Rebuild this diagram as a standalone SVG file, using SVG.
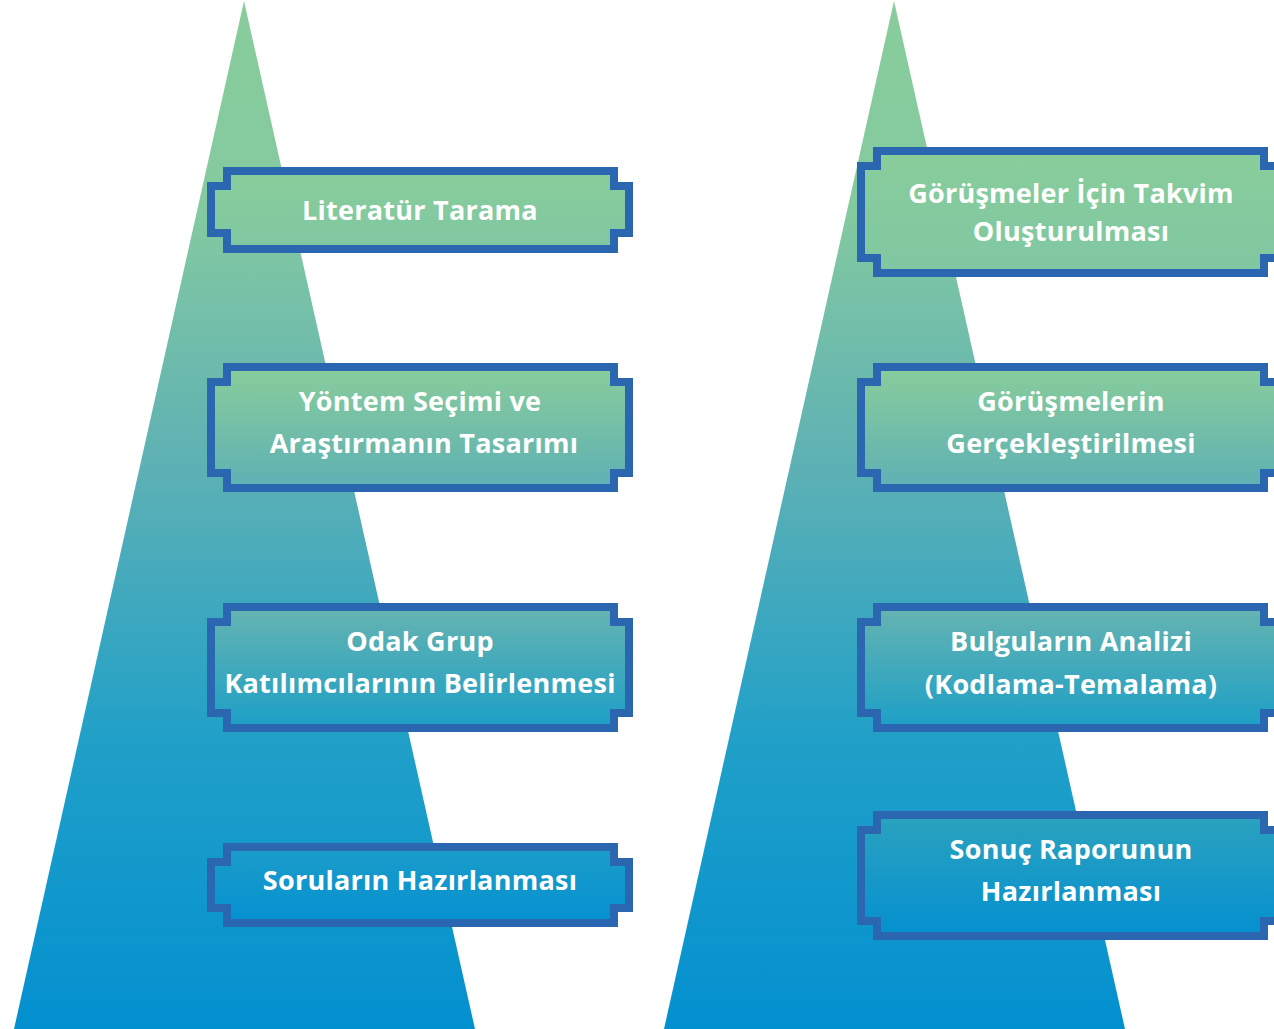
<svg xmlns="http://www.w3.org/2000/svg" width="1274" height="1029" viewBox="0 0 1274 1029">
<style>
.box{stroke:#2b66b0;stroke-width:8;stroke-linejoin:miter}
.t{font-family:"Open Sans","Liberation Sans",sans-serif;font-weight:700;font-size:27px;letter-spacing:0.25px;fill:#ffffff;text-anchor:middle}
</style>
<defs>
<linearGradient id="tri" x1="0" y1="0" x2="0" y2="1">
<stop offset="0" stop-color="#88cc9a"/>
<stop offset="0.2" stop-color="#84caa0"/>
<stop offset="0.45" stop-color="#5eb1b4"/>
<stop offset="0.72" stop-color="#20a0c8"/>
<stop offset="1" stop-color="#0390d0"/>
</linearGradient>
<linearGradient id="g1" x1="0" y1="0" x2="0" y2="1">
<stop offset="0" stop-color="#89cd9b"/>
<stop offset="1" stop-color="#80c7a2"/>
</linearGradient>
<linearGradient id="g2" x1="0" y1="0" x2="0" y2="1">
<stop offset="0" stop-color="#89cd9b"/>
<stop offset="1" stop-color="#5eb0b4"/>
</linearGradient>
<linearGradient id="g3" x1="0" y1="0" x2="0" y2="1">
<stop offset="0" stop-color="#66b4b0"/>
<stop offset="1" stop-color="#1c9fc7"/>
</linearGradient>
<linearGradient id="g4" x1="0" y1="0" x2="0" y2="1">
<stop offset="0" stop-color="#1c9dca"/>
<stop offset="1" stop-color="#0490d0"/>
</linearGradient>
<linearGradient id="g5" x1="0" y1="0" x2="0" y2="1">
<stop offset="0" stop-color="#2ba2be"/>
<stop offset="1" stop-color="#0490d0"/>
</linearGradient>
</defs>
<g id="triangle-left"><polygon points="244,1 475,1029 14,1029" fill="url(#tri)"/></g>
<g id="triangle-right"><polygon points="894,1 1125,1029 664,1029" fill="url(#tri)"/></g>
<g id="connectors"></g>
<g id="n1">
<path class="box" fill="url(#g1)" d="M227,171 H614 V186 H629 V233 H614 V249 H227 V233 H211 V186 H227 Z"/>
<text class="t" x="420" y="220">Literatür Tarama</text>
</g>
<g id="n2">
<path class="box" fill="url(#g2)" d="M227,367 H614 V382 H629 V473 H614 V488 H227 V473 H211 V382 H227 Z"/>
<text class="t" x="420" y="411">Yöntem Seçimi ve</text>
<text class="t" x="424" y="453">Araştırmanın Tasarımı</text>
</g>
<g id="n3">
<path class="box" fill="url(#g3)" d="M227,607 H614 V622 H629 V713 H614 V728 H227 V713 H211 V622 H227 Z"/>
<text class="t" x="420" y="651">Odak Grup</text>
<text class="t" x="420" y="693">Katılımcılarının Belirlenmesi</text>
</g>
<g id="n4">
<path class="box" fill="url(#g4)" d="M227,847 H614 V862 H629 V908 H614 V923 H227 V908 H211 V862 H227 Z"/>
<text class="t" x="420" y="890">Soruların Hazırlanması</text>
</g>
<g id="n5">
<path class="box" fill="url(#g1)" d="M877,151 H1264 V166 H1279 V258 H1264 V273 H877 V258 H861 V166 H877 Z"/>
<text class="t" x="1071" y="203">Görüşmeler İçin Takvim</text>
<text class="t" x="1071" y="241">Oluşturulması</text>
</g>
<g id="n6">
<path class="box" fill="url(#g2)" d="M877,367 H1264 V382 H1279 V473 H1264 V488 H877 V473 H861 V382 H877 Z"/>
<text class="t" x="1071" y="411">Görüşmelerin</text>
<text class="t" x="1071" y="453">Gerçekleştirilmesi</text>
</g>
<g id="n7">
<path class="box" fill="url(#g3)" d="M877,607 H1264 V622 H1279 V713 H1264 V728 H877 V713 H861 V622 H877 Z"/>
<text class="t" x="1071" y="651">Bulguların Analizi</text>
<text class="t" x="1071" y="694">(Kodlama-Temalama)</text>
</g>
<g id="n8">
<path class="box" fill="url(#g5)" d="M877,815 H1264 V830 H1279 V921 H1264 V936 H877 V921 H861 V830 H877 Z"/>
<text class="t" x="1071" y="859">Sonuç Raporunun</text>
<text class="t" x="1071" y="901">Hazırlanması</text>
</g>
</svg>
